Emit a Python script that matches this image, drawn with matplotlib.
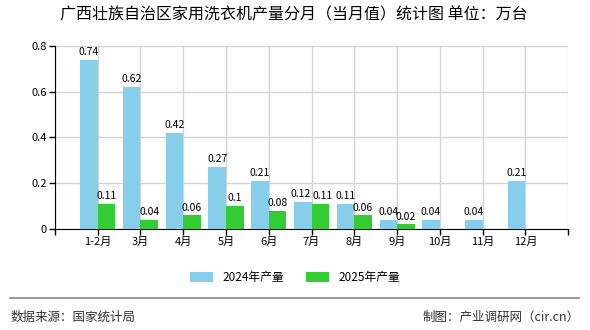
import matplotlib.pyplot as plt
from matplotlib.lines import Line2D

plt.rcParams['font.family'] = ['Noto Sans CJK SC', 'DejaVu Sans']

months = ['1-2月', '3月', '4月', '5月', '6月', '7月', '8月', '9月', '10月', '11月', '12月']
prod_2024 = [0.74, 0.62, 0.42, 0.27, 0.21, 0.12, 0.11, 0.04, 0.04, 0.04, 0.21]
prod_2025 = [0.11, 0.04, 0.06, 0.1, 0.08, 0.11, 0.06, 0.02]

fig = plt.figure(figsize=(5.9, 3.3), dpi=100)
ax = fig.add_axes([0.093, 0.306, 0.87, 0.555])

w = 0.41
x24 = [i - w / 2 for i in range(len(prod_2024))]
x25 = [i + w / 2 for i in range(len(prod_2025))]
ax.bar(x24, prod_2024, width=w, color='#87CEEB', label='2024年产量', zorder=3)
ax.bar(x25, prod_2025, width=w, color='#33CC33', label='2025年产量', zorder=3)

# labels: nudge the pair in 7月 apart so they don't collide
for i, (x, v) in enumerate(zip(x24, prod_2024)):
    dx = -0.06 if i == 5 else 0
    ax.text(x + dx, v + 0.012, f'{v:g}', ha='center', va='bottom', fontsize=7.5, zorder=4)
for i, (x, v) in enumerate(zip(x25, prod_2025)):
    dx = 0.06 if i == 5 else 0
    ax.text(x + dx, v + 0.012, f'{v:g}', ha='center', va='bottom', fontsize=7.5, zorder=4)

ax.set_xlim(-1, 11)
ax.set_ylim(0, 0.8)
ax.set_xticks(range(-1, 12))
ax.set_xticklabels([''] + months + [''], fontsize=8)
ax.set_yticks([0, 0.2, 0.4, 0.6, 0.8])
ax.set_yticklabels(['0', '0.2', '0.4', '0.6', '0.8'], fontsize=8)
ax.tick_params(length=4, width=1, pad=2)
ax.grid(True, color='#d3d3d3', linewidth=1, zorder=0)
ax.spines['top'].set_visible(False)
ax.spines['right'].set_visible(False)

fig.suptitle('广西壮族自治区家用洗衣机产量分月（当月值）统计图 单位：万台',
             x=0.498, y=0.98, fontsize=11.5)

fig.legend(loc='center', bbox_to_anchor=(0.5, 0.16), ncol=2, frameon=False,
           fontsize=8.5, handlelength=2.0, handleheight=0.9, columnspacing=1.8)

fig.add_artist(Line2D([0.017, 0.982], [0.097, 0.097], color='#888888', linewidth=1.2))
fig.text(0.017, 0.04, '数据来源：国家统计局', fontsize=9, color='#333333', va='center')
fig.text(0.982, 0.04, '制图：产业调研网（cir.cn）', fontsize=9, color='#333333',
         va='center', ha='right')

fig.savefig('out.png', dpi=100)
